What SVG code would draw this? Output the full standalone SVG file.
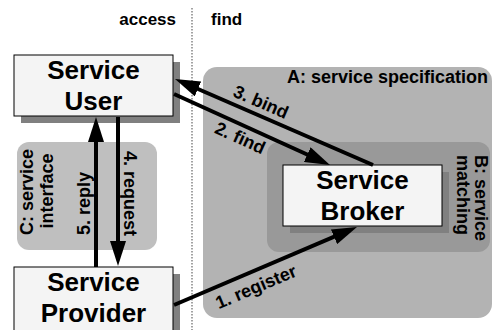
<svg xmlns="http://www.w3.org/2000/svg" width="492" height="330" viewBox="0 0 492 330">
<style>
text{font-family:"Liberation Sans",Arial,Helvetica,sans-serif;font-weight:bold;fill:#000}
.title{font-size:26px;text-anchor:middle}
.lbl{font-size:18px}
.hdr{font-size:17px}
.box{fill:#f4f4f4;stroke:#000;stroke-width:1}
.shadow{fill:#808080}
.conn{stroke:#000;stroke-width:4;fill:none}
.arr{marker-end:url(#ah)}
</style>
<defs>
<marker id="ah" markerUnits="userSpaceOnUse" viewBox="0 0 25 16" refX="15" refY="8" markerWidth="25" markerHeight="16" orient="auto">
<path d="M0,0 L25,8 L0,16 z" fill="#000"/>
</marker>
</defs>
<rect width="492" height="330" fill="#fff"/>
<line x1="192" y1="8" x2="192" y2="330" stroke="#666" stroke-width="1.2" stroke-dasharray="1.5 1.5"/>
<text class="hdr" x="176" y="25" text-anchor="end">access</text>
<text class="hdr" x="211" y="25">find</text>

<g id="regionA">
<rect x="203" y="67" width="289" height="251" rx="14" fill="#b3b3b3"/>
<text class="lbl" x="287" y="83">A: service specification</text>
</g>
<g id="regionB">
<rect x="267" y="142" width="223" height="110" rx="12" fill="#999999"/>
<text class="lbl" transform="translate(475,155) rotate(90)">B: service</text>
<text class="lbl" transform="translate(457,155) rotate(90)">matching</text>
</g>
<g id="regionC">
<rect x="17" y="142" width="140" height="108" rx="12" fill="#bfbfbf"/>
<text class="lbl" text-anchor="middle" transform="translate(33,192) rotate(-90)">C: service</text>
<text class="lbl" text-anchor="middle" transform="translate(53,191) rotate(-90)">interface</text>
</g>

<g id="user">
<rect class="shadow" x="21" y="62" width="159" height="61"/>
<rect class="box" x="14" y="55" width="159" height="61"/>
<text class="title" x="93.5" y="78.5">Service</text>
<text class="title" x="93.5" y="110">User</text>
</g>
<g id="broker">
<rect class="shadow" x="290" y="172" width="159" height="61"/>
<rect class="box" x="283" y="165" width="159" height="61"/>
<text class="title" x="362.5" y="188.5">Service</text>
<text class="title" x="362.5" y="220">Broker</text>
</g>
<g id="provider">
<rect class="shadow" x="21" y="274" width="159" height="70"/>
<rect class="box" x="14" y="267" width="159" height="70"/>
<text class="title" x="93.5" y="290.5">Service</text>
<text class="title" x="93.5" y="322">Provider</text>
</g>

<g id="connectors">
<line class="conn arr" x1="96" y1="267" x2="96" y2="127"/>
<line class="conn arr" x1="118" y1="117" x2="118" y2="256"/>
<line class="conn arr" x1="373" y1="165" x2="184.2" y2="83"/>
<line class="conn arr" x1="174" y1="94" x2="320.9" y2="160.8"/>
<line class="conn arr" x1="174" y1="305" x2="347.8" y2="230.9"/>
<text class="lbl" transform="translate(90,203.5) rotate(-90)" text-anchor="middle">5. reply</text>
<text class="lbl" transform="translate(124,193.5) rotate(90)" text-anchor="middle">4. request</text>
<text class="lbl" transform="translate(258.6,107.5) rotate(23.5)" text-anchor="middle">3. bind</text>
<text class="lbl" transform="translate(237.6,143.5) rotate(24.5)" text-anchor="middle">2. find</text>
<text class="lbl" transform="translate(258.3,292.5) rotate(-23)" text-anchor="middle">1. register</text>
</g>
</svg>
